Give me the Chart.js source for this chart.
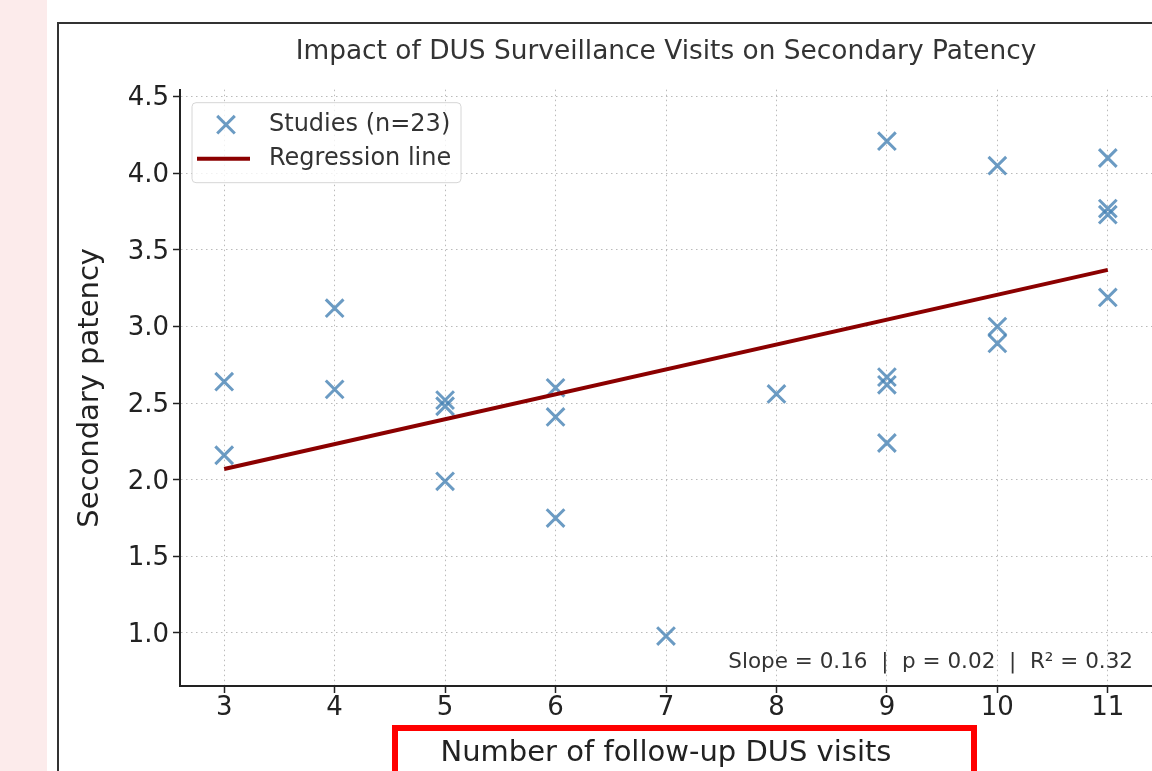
<!DOCTYPE html>
<html>
<head>
<meta charset="utf-8" />
<title>Impact of DUS Surveillance Visits on Secondary Patency</title>
<script src="https://cdn.jsdelivr.net/npm/chart.js@4.4.0/dist/chart.umd.min.js"></script>
<style>
    html, body { margin: 0; padding: 0; background: #fff; }
    #page { position: relative; width: 1152px; height: 771px; overflow: hidden; background: #fff; }
    #strip { position: absolute; left: 0; top: 0; width: 47px; height: 771px; background: #fcebeb; }
    #panel { position: absolute; left: 57px; top: 22px; width: 1200px; height: 800px; border: 2px solid #333; }
    #wrap { position: absolute; left: 0; top: 0; width: 1152px; height: 771px; }
    #redbox { position: absolute; left: 392px; top: 725px; width: 573px; height: 80px; border: 6px solid #ff0000; }
</style>
</head>
<body>
<div id="page">
    <div id="strip"></div>
    <div id="panel"></div>
    <div id="wrap"><canvas id="grafico" width="1152" height="771"></canvas></div>
    <div id="redbox"></div>
</div>
<script type="text/javascript">
    // values
    var visits  = [3, 3, 4, 4, 5, 5, 5, 6, 6, 6, 7, 8, 9, 9, 9, 9, 10, 10, 10, 11, 11, 11, 11];
    var patency = [2.64, 2.16, 3.12, 2.59, 2.52, 2.48, 1.99, 2.60, 2.41, 1.75, 0.98, 2.56,
                   4.21, 2.67, 2.62, 2.24, 4.05, 3.00, 2.89, 4.10, 3.77, 3.73, 3.19];
    var fitX = [3, 11];
    var fitY = [2.07, 3.37];
    var xTicks = [3, 4, 5, 6, 7, 8, 9, 10, 11];
    var yTicks = [1.0, 1.5, 2.0, 2.5, 3.0, 3.5, 4.0, 4.5];
    var xRange = [2.6, 11.4];
    var yRange = [0.654, 4.546];
    var statsText = 'Slope = 0.16  |  p = 0.02  |  R\u00b2 = 0.32';

    var FONT = '"DejaVu Sans", "Liberation Sans", sans-serif';
    var markerColor = 'rgba(70, 130, 180, 0.8)';
    var lineColor = '#8b0000';
    var gridColor = '#bababa';

    // legend box + stats text drawn inside the plot area
    var overlay = {
        id: 'overlay',
        afterDatasetsDraw: function(chart) {
            var ctx = chart.ctx;
            var a = chart.chartArea;
            ctx.save();

            ctx.font = '21.5px ' + FONT;
            ctx.fillStyle = '#333';
            ctx.textAlign = 'right';
            ctx.textBaseline = 'middle';
            ctx.fillText(statsText, a.right - 19, a.bottom - 24);

            var lx = a.left + 12, ly = a.top + 13, lw = 269, lh = 80;
            ctx.beginPath();
            ctx.roundRect(lx, ly, lw, lh, 4);
            ctx.fillStyle = 'rgba(255,255,255,0.8)';
            ctx.fill();
            ctx.strokeStyle = '#d6d6d6';
            ctx.lineWidth = 1;
            ctx.stroke();

            // scatter marker
            var mx = lx + 34, my = ly + 22, r = 8.8;
            ctx.strokeStyle = markerColor;
            ctx.lineWidth = 3;
            ctx.beginPath();
            ctx.moveTo(mx - r, my - r);
            ctx.lineTo(mx + r, my + r);
            ctx.moveTo(mx + r, my - r);
            ctx.lineTo(mx - r, my + r);
            ctx.stroke();

            // line sample
            ctx.strokeStyle = lineColor;
            ctx.lineWidth = 4;
            ctx.beginPath();
            ctx.moveTo(lx + 5, ly + 56);
            ctx.lineTo(lx + 58, ly + 56);
            ctx.stroke();

            ctx.font = '24px ' + FONT;
            ctx.fillStyle = '#333';
            ctx.textAlign = 'left';
            ctx.fillText(chart.data.datasets[1].label, lx + 77, ly + 22);
            ctx.fillText(chart.data.datasets[0].label, lx + 77, ly + 56);
            ctx.restore();
        }
    };

    var puntos = visits.map(function(v, i) { return {x: v, y: patency[i]}; });
    var recta = fitX.map(function(v, i) { return {x: v, y: fitY[i]}; });

    var config = {
        type: 'scatter',
        data: {
            datasets: [{
                type: 'line',
                label: 'Regression line',
                data: recta,
                borderColor: lineColor,
                borderWidth: 4,
                pointRadius: 0,
                fill: false,
                tension: 0
            }, {
                type: 'scatter',
                label: 'Studies (n=23)',
                data: puntos,
                pointStyle: 'crossRot',
                pointRadius: 12.5,
                pointHoverRadius: 12.5,
                borderColor: markerColor,
                backgroundColor: markerColor,
                borderWidth: 3
            }]
        },
        options: {
            responsive: false,
            animation: false,
            devicePixelRatio: 1,
            layout: { autoPadding: false, padding: { left: 60, right: 0, top: 0, bottom: 0 } },
            plugins: {
                legend: { display: false },
                tooltip: { enabled: false },
                title: {
                    display: true,
                    fullSize: false,
                    text: 'Impact of DUS Surveillance Visits on Secondary Patency',
                    color: '#333',
                    font: { family: FONT, size: 26.4, weight: 'normal' },
                    padding: { top: 36, bottom: 22 }
                }
            },
            scales: {
                x: {
                    type: 'linear',
                    min: xRange[0],
                    max: xRange[1],
                    afterBuildTicks: function(s) { s.ticks = xTicks.map(function(v) { return {value: v}; }); },
                    afterFit: function(s) { s.height = 85; },
                    grid: { color: gridColor, lineWidth: 1, tickLength: 7, tickColor: '#222', tickWidth: 1.5, tickBorderDash: [] },
                    border: { display: true, color: '#222', width: 2, dash: [1.5, 3.5] },
                    ticks: { color: '#222', font: { family: FONT, size: 26 }, padding: 0, maxRotation: 0,
                             callback: function(v) { return String(v); } },
                    title: { display: true, text: 'Number of follow-up DUS visits', color: '#222',
                             font: { family: FONT, size: 29 }, padding: { top: 0, bottom: 0 } }
                },
                y: {
                    type: 'linear',
                    min: yRange[0],
                    max: yRange[1],
                    afterBuildTicks: function(s) { s.ticks = yTicks.map(function(v) { return {value: v}; }); },
                    afterFit: function(s) { s.width = 120; },
                    grid: { color: gridColor, lineWidth: 1, tickLength: 7, tickColor: '#222', tickWidth: 1.5, tickBorderDash: [] },
                    border: { display: true, color: '#222', width: 2, dash: [1.5, 3.5] },
                    ticks: { color: '#222', font: { family: FONT, size: 26 }, padding: 4, labelOffset: 2,
                             callback: function(v) { return v.toFixed(1); } },
                    title: { display: true, text: 'Secondary patency', color: '#222',
                             font: { family: FONT, size: 29 }, padding: { top: 13, bottom: 0 } }
                }
            }
        },
        plugins: [overlay]
    };

    var ctx = document.getElementById('grafico').getContext('2d');
    var grafico = new Chart(ctx, config);
</script>
</body>
</html>
